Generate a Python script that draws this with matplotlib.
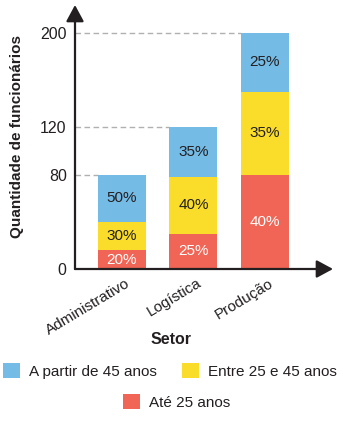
import matplotlib
matplotlib.use("Agg")
import matplotlib.pyplot as plt
import matplotlib.transforms as mtransforms
from matplotlib.patches import Patch

plt.rcParams['font.family'] = ['Liberation Sans', 'DejaVu Sans']

setores = ["Administrativo", "Logística", "Produção"]
totais = [80, 120, 200]
pct_ate25 = [20, 25, 40]
pct_25a45 = [30, 40, 35]
pct_45mais = [50, 35, 25]
yticks = [0, 80, 120, 200]

c_blue = "#74bbe6"
c_yellow = "#f9dd2a"
c_red = "#f06555"
c_text = "#231f20"

fig = plt.figure(figsize=(3.43, 4.30), dpi=100)
W, H = 343, 430
ax = fig.add_axes([75 / W, 1 - 269 / H, (333 - 75) / W, (269 - 5) / H])

x = list(range(len(setores)))
width = 0.671
seg_ate = [t * p / 100 for t, p in zip(totais, pct_ate25)]
seg_mid = [t * p / 100 for t, p in zip(totais, pct_25a45)]
seg_top = [t * p / 100 for t, p in zip(totais, pct_45mais)]
bot_mid = seg_ate
bot_top = [a + b for a, b in zip(seg_ate, seg_mid)]

b1 = ax.bar(x, seg_ate, width, color=c_red, zorder=3)
b2 = ax.bar(x, seg_mid, width, bottom=bot_mid, color=c_yellow, zorder=3)
b3 = ax.bar(x, seg_top, width, bottom=bot_top, color=c_blue, zorder=3)

ax.bar_label(b1, labels=[f"{p}%" for p in pct_ate25], label_type='center', color='white', fontsize=11)
ax.bar_label(b2, labels=[f"{p}%" for p in pct_25a45], label_type='center', color=c_text, fontsize=11)
ax.bar_label(b3, labels=[f"{p}%" for p in pct_45mais], label_type='center', color=c_text, fontsize=11)

xmin, xmax = -0.657, 2.951
ax.set_xlim(xmin, xmax)
ax.set_ylim(0, 223.7)

for xi, t in zip(x, totais):
    ax.plot([xmin, xi - width / 2], [t, t], color="#b0b0b0", lw=1.0,
            dashes=(4, 2.5), zorder=1, clip_on=False)

for s in ax.spines.values():
    s.set_visible(False)

arrow = dict(arrowstyle="-|>,head_length=0.5,head_width=0.27",
             mutation_scale=20, color=c_text, lw=1.6, shrinkA=0, shrinkB=0)
ax.annotate("", xy=(0, 1), xytext=(0, 0), xycoords='axes fraction',
            arrowprops=arrow, zorder=5)
ax.annotate("", xy=(1, 0), xytext=(0, 0), xycoords='axes fraction',
            arrowprops=arrow, zorder=5)

ax.set_yticks(yticks)
ax.set_yticklabels([str(v) for v in yticks], fontsize=11.5, color=c_text)
ax.set_xticks(x)
ax.set_xticklabels(setores, rotation=31, ha='right', rotation_mode='anchor',
                   fontsize=11, color=c_text)
ax.tick_params(axis='y', length=0, pad=6)
ax.tick_params(axis='x', length=0, pad=5)
offset = mtransforms.ScaledTranslation(3 / 100, 0, fig.dpi_scale_trans)
for lbl in ax.get_xticklabels():
    lbl.set_transform(lbl.get_transform() + offset)

ax.set_ylabel("Quantidade de funcionários", fontsize=11, fontweight='bold',
              color=c_text)
ax.yaxis.set_label_coords(-51 / 258, (269 - 137) / 264)
fig.text(171 / W, 1 - 339 / H, "Setor", fontsize=11.5, fontweight='bold',
         color=c_text, ha='center', va='center')

h_blue = Patch(facecolor=c_blue, edgecolor='none')
h_yellow = Patch(facecolor=c_yellow, edgecolor='none')
h_red = Patch(facecolor=c_red, edgecolor='none')
leg1 = fig.legend([h_blue, h_yellow], ["A partir de 45 anos", "Entre 25 e 45 anos"],
                  loc='center', bbox_to_anchor=(170 / W, 1 - 371 / H), ncol=2,
                  frameon=False, fontsize=11, handlelength=1.1, handleheight=1.15,
                  handletextpad=0.6, columnspacing=1.6, borderpad=0)
leg2 = fig.legend([h_red], ["Até 25 anos"],
                  loc='center', bbox_to_anchor=(177 / W, 1 - 402 / H), ncol=1,
                  frameon=False, fontsize=11, handlelength=1.1, handleheight=1.15,
                  handletextpad=0.6, borderpad=0)
for leg in (leg1, leg2):
    for t in leg.get_texts():
        t.set_color(c_text)

fig.savefig("out.png", dpi=100)
